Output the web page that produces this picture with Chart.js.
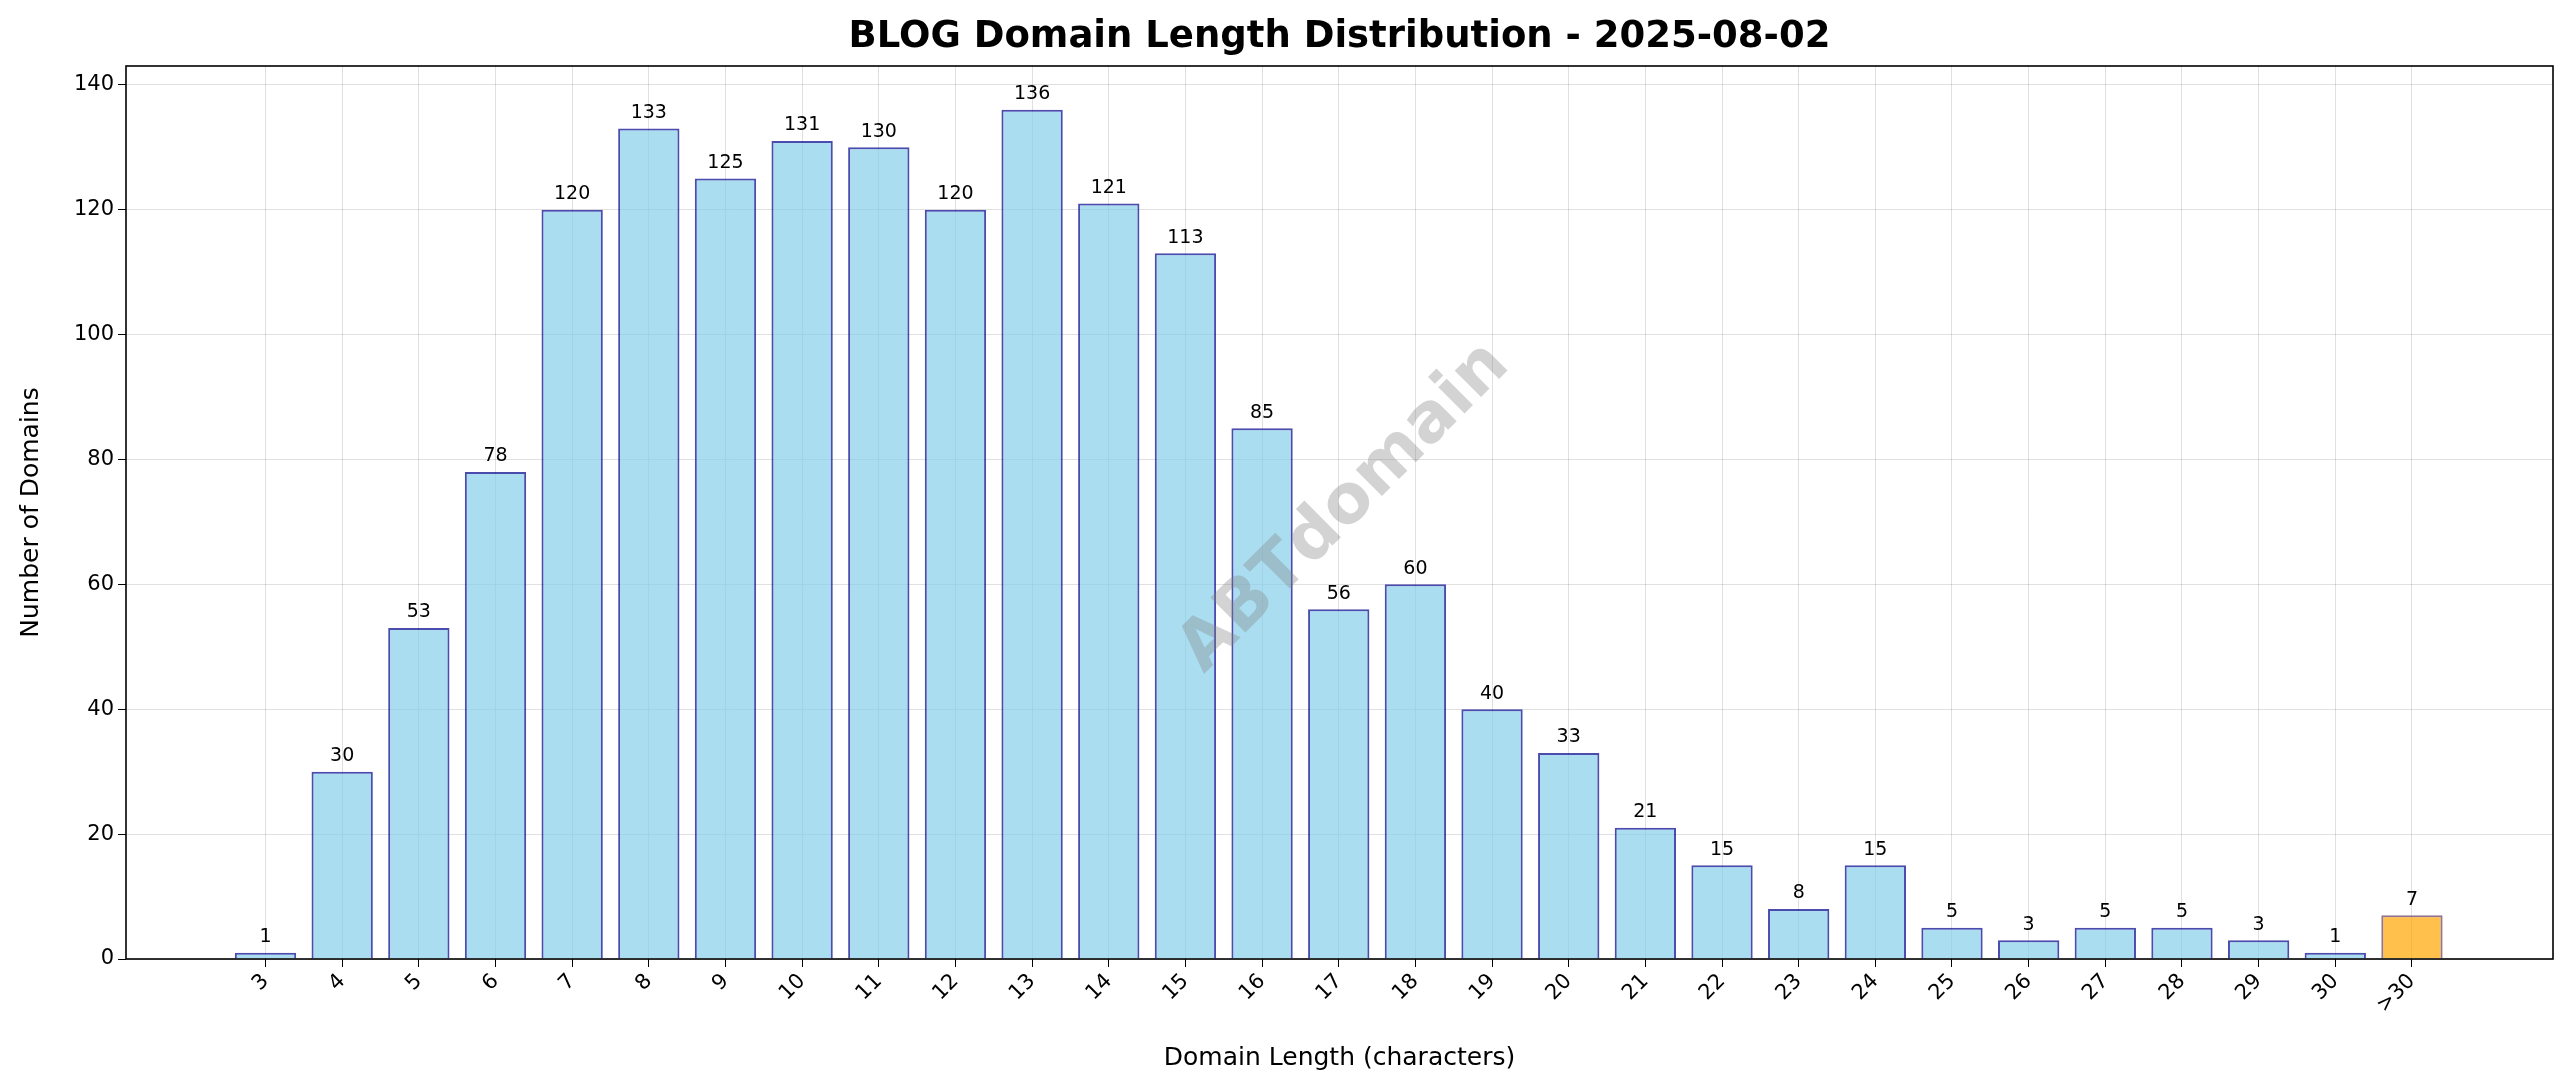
<!DOCTYPE html>
<html><head><meta charset="utf-8">
<script src="https://cdn.jsdelivr.net/npm/chart.js@4"></script>
<style>html,body{margin:0;padding:0;background:#fff}</style>
</head><body>
<canvas id="c" width="2560" height="1087"></canvas>
<script>
const categories = ['3','4','5','6','7','8','9','10','11','12','13','14','15','16','17','18','19','20','21','22','23','24','25','26','27','28','29','30','>30'];
const counts = [1,30,53,78,120,133,125,131,130,120,136,121,113,85,56,60,40,33,21,15,8,15,5,3,5,5,3,1,7];
const yTicks = [0,20,40,60,80,100,120,140];

const F = 'DejaVu Sans';
const points = counts.map((v,i)=>({x:i,y:v}));
const bg = counts.map((v,i)=> categories[i]==='>30' ? 'rgba(255,165,0,0.7)' : 'rgba(135,206,235,0.7)');
const bd = counts.map((v,i)=> categories[i]==='>30' ? 'rgba(120,80,120,0.8)' : 'rgba(0,0,139,0.7)');

const extras = {
  id:'extras',
  afterDatasetsDraw(chart){
    const ctx = chart.ctx, xs = chart.scales.x, ys = chart.scales.y, a = chart.chartArea;
    ctx.save();
    ctx.fillStyle='#000'; ctx.font='19px '+F; ctx.textAlign='center'; ctx.textBaseline='bottom';
    counts.forEach((v,i)=>ctx.fillText(String(v), xs.getPixelForValue(i), ys.getPixelForValue(v)-6));
    ctx.translate(1345,508); ctx.rotate(-Math.PI/4);
    ctx.font='bold 68px '+F; ctx.fillStyle='rgba(128,128,128,0.35)'; ctx.textBaseline='middle';
    ctx.fillText('ABTdomain',0,0);
    ctx.restore();
    ctx.save();
    ctx.strokeStyle='#000'; ctx.lineWidth=1.6;
    ctx.strokeRect(a.left,a.top,a.right-a.left,a.bottom-a.top);
    ctx.fillStyle='#000'; ctx.font='bold 37px '+F; ctx.textAlign='center'; ctx.textBaseline='middle';
    ctx.fillText('BLOG Domain Length Distribution - 2025-08-02',(a.left+a.right)/2,37);
    ctx.restore();
  }
};

new Chart(document.getElementById('c'),{
  type:'bar',
  data:{datasets:[{data:points,backgroundColor:bg,borderColor:bd,borderWidth:2,barPercentage:0.8,categoryPercentage:1}]},
  options:{
    responsive:false, animation:false, devicePixelRatio:1,
    layout:{padding:{top:66,right:7,left:12,bottom:10}},
    plugins:{legend:{display:false},tooltip:{enabled:false}},
    scales:{
      x:{type:'linear',min:-1.82,max:29.84,offset:false,
        afterBuildTicks(s){s.ticks=categories.map((c,i)=>({value:i}));},
        afterFit(s){s.height=118;},
        grid:{offset:false,color:'rgba(0,0,0,0.12)',drawTicks:true,tickLength:8,tickColor:'#000'},
        border:{display:false},
        ticks:{autoSkip:false,maxRotation:45,minRotation:45,padding:2,color:'#000',font:{family:F,size:21},
          callback:(v)=>categories[v]},
        title:{display:true,text:'Domain Length (characters)',color:'#000',font:{family:F,size:25},padding:{top:6}}
      },
      y:{min:0,max:143,
        afterBuildTicks(s){s.ticks=yTicks.map(v=>({value:v}));},
        afterFit(s){s.width=114;},
        grid:{color:'rgba(0,0,0,0.12)',tickLength:8,tickColor:'#000'},
        border:{display:false},
        ticks:{color:'#000',padding:4,font:{family:F,size:21}},
        title:{display:true,text:'Number of Domains',color:'#000',font:{family:F,size:25},padding:{bottom:10}}
      }
    }
  },
  plugins:[extras]
});
</script>
</body></html>
